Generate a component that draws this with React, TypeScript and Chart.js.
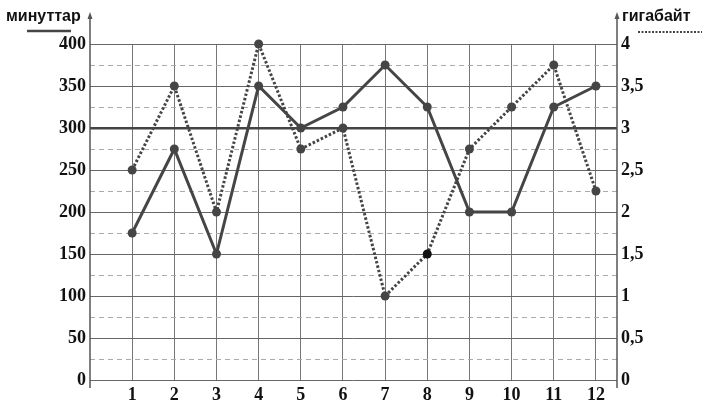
import React, { useEffect, useRef } from "react";
import { Chart, registerables } from "chart.js";
Chart.register(...registerables);

const days = [1, 2, 3, 4, 5, 6, 7, 8, 9, 10, 11, 12];
const minutes = [175, 275, 150, 350, 300, 325, 375, 325, 200, 200, 325, 350];
const gigabytes = [2.5, 3.5, 2, 4, 2.75, 3, 1, 1.5, 2.75, 3.25, 3.75, 2.25];
const leftTitle = "минуттар";
const rightTitle = "гигабайт";

const LINE = "#454545";
const tickFont = { family: "'Liberation Serif', 'Times New Roman', serif", size: 18, weight: "bold" as const };

const decorPlugin = {
  id: "decor",
  afterDraw(chart: any) {
    const { ctx, chartArea: ca } = chart;
    ctx.save();
    ctx.strokeStyle = "#555";
    ctx.fillStyle = "#555";
    ctx.lineWidth = 1.5;
    const axisAt = (x: number) => {
      ctx.beginPath();
      ctx.moveTo(x, ca.bottom + 8);
      ctx.lineTo(x, 16);
      ctx.stroke();
      ctx.beginPath();
      ctx.moveTo(x, 12);
      ctx.lineTo(x - 2.5, 19);
      ctx.lineTo(x + 2.5, 19);
      ctx.closePath();
      ctx.fill();
    };
    axisAt(ca.left);
    axisAt(ca.right);
    ctx.fillStyle = "#111";
    ctx.font = "bold 16px 'Liberation Sans', Arial, sans-serif";
    ctx.textBaseline = "alphabetic";
    ctx.textAlign = "left";
    ctx.fillText(leftTitle, 6, 21);
    ctx.fillText(rightTitle, 622, 21);
    ctx.strokeStyle = LINE;
    ctx.lineWidth = 2.5;
    ctx.beginPath();
    ctx.moveTo(27, 31);
    ctx.lineTo(71, 31);
    ctx.stroke();
    ctx.setLineDash([2, 1.5]);
    ctx.lineWidth = 2;
    ctx.beginPath();
    ctx.moveTo(638, 32);
    ctx.lineTo(702, 32);
    ctx.stroke();
    ctx.restore();
  },
};

export default function App() {
  const ref = useRef<HTMLCanvasElement>(null);
  useEffect(() => {
    const chart = new Chart(ref.current!, {
      type: "line",
      data: {
        datasets: [
          {
            label: leftTitle,
            data: days.map((d, i) => ({ x: d, y: minutes[i] })),
            yAxisID: "y",
            borderColor: LINE,
            borderWidth: 3,
            pointRadius: 4.5,
            pointBackgroundColor: LINE,
            pointBorderWidth: 0,
            tension: 0,
            clip: false,
          },
          {
            label: rightTitle,
            data: days.map((d, i) => ({ x: d, y: gigabytes[i] })),
            yAxisID: "y2",
            borderColor: LINE,
            borderWidth: 3,
            borderDash: [2.5, 2],
            borderCapStyle: "butt",
            pointRadius: 4.5,
            pointBackgroundColor: days.map((d) => (d === 8 ? "#111" : LINE)),
            pointBorderWidth: 0,
            tension: 0,
            clip: false,
          },
        ],
      },
      options: {
        animation: false,
        responsive: false,
        layout: { padding: { top: 44, left: 0, right: 0, bottom: 0 } },
        plugins: { legend: { display: false }, tooltip: { enabled: false } },
        scales: {
          x: {
            type: "linear",
            min: 0,
            max: 12.5,
            afterFit: (s: any) => {
              s.height = 34;
            },
            afterBuildTicks: (s: any) => {
              s.ticks = [0, ...days].map((v) => ({ value: v }));
            },
            ticks: {
              stepSize: 1,
              includeBounds: false,
              autoSkip: false,
              maxRotation: 0,
              padding: 5,
              color: "#111",
              font: tickFont,
              callback: (v: any) => (Number.isInteger(v) && v > 0 ? String(v) : null),
            },
            grid: {
              drawTicks: false,
              color: (c: any) =>
                c.tick && Number.isInteger(c.tick.value) && c.tick.value > 0 ? "#777" : "rgba(0,0,0,0)",
              lineWidth: 1,
            },
            border: { display: false },
          },
          y: {
            position: "left",
            min: 0,
            max: 400,
            afterFit: (s: any) => {
              s.width = 90;
            },
            ticks: {
              stepSize: 25,
              autoSkip: false,
              padding: 4,
              color: "#111",
              font: tickFont,
              callback: (v: any) => (v % 50 === 0 ? String(v) : ""),
            },
            grid: {
              drawTicks: false,
              color: (c: any) => {
                const v = c.tick?.value;
                if (v === 300) return "#444";
                return v % 50 === 0 ? "#666" : "#aaa";
              },
              lineWidth: (c: any) => (c.tick?.value === 300 ? 2.5 : 1),
            },
            border: {
              display: false,
              dash: (c: any) => (c.tick && c.tick.value % 50 !== 0 ? [5, 4] : []),
            } as any,
          },
          y2: {
            position: "right",
            min: 0,
            max: 4,
            afterFit: (s: any) => {
              s.width = 95;
            },
            ticks: {
              stepSize: 0.25,
              autoSkip: false,
              padding: 4,
              color: "#111",
              font: tickFont,
              callback: (v: any) =>
                Math.abs((v * 2) - Math.round(v * 2)) < 1e-9 ? String(v).replace(".", ",") : "",
            },
            grid: { display: false, drawTicks: false },
            border: { display: false },
          },
        },
      } as any,
      plugins: [decorPlugin],
    });
    return () => chart.destroy();
  }, []);
  return (
    <div style={{ position: "fixed", left: 0, top: 0, width: 712, height: 414, background: "#fff" }}>
      <canvas ref={ref} width={712} height={414} style={{ display: "block" }} />
    </div>
  );
}
